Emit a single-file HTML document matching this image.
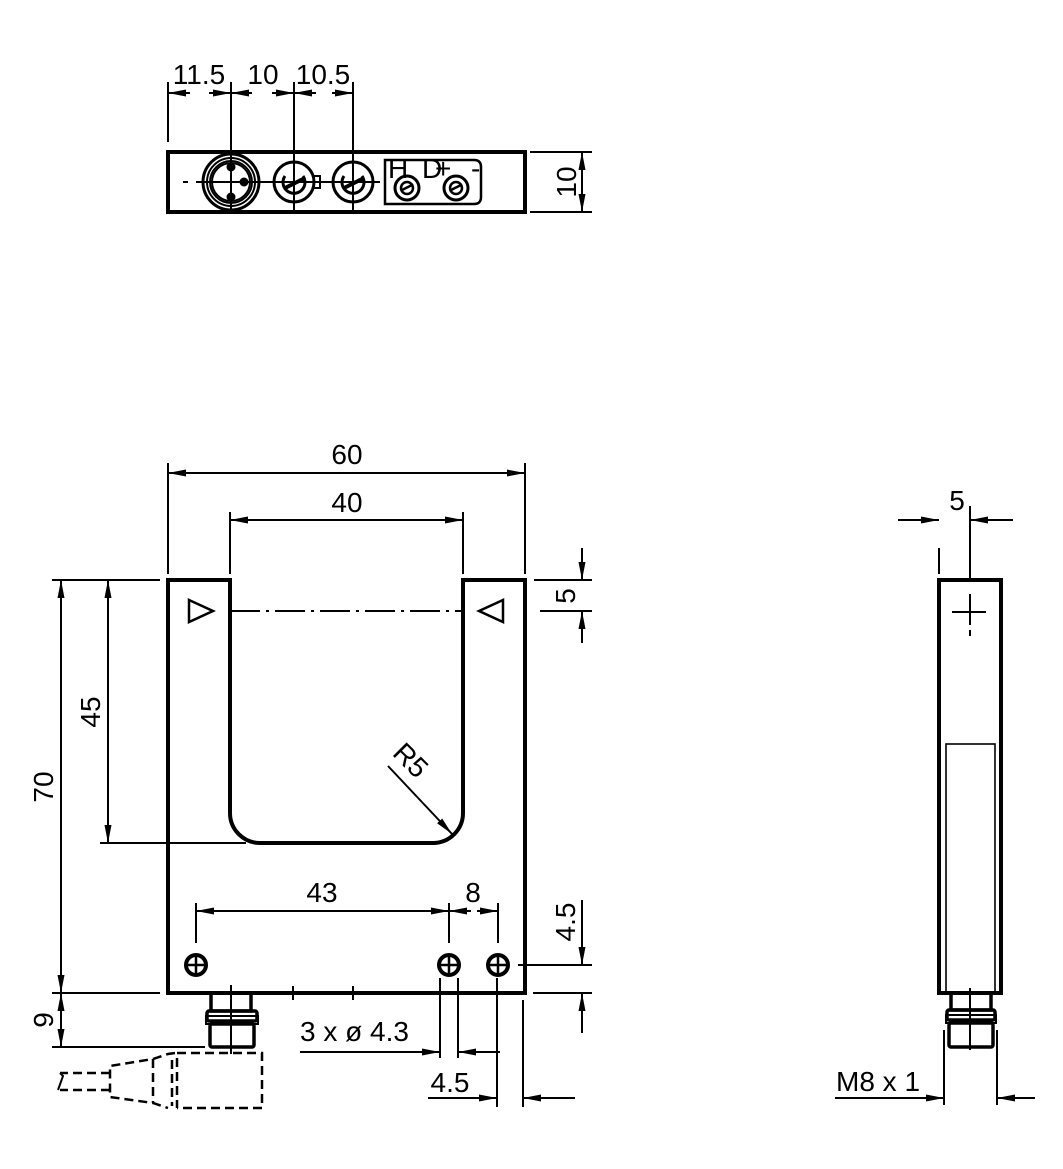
<!DOCTYPE html>
<html><head><meta charset="utf-8"><style>
html,body{margin:0;padding:0;background:#fff}
svg{display:block}
text{font-family:"Liberation Sans",sans-serif;font-size:28px;fill:#000}
</style></head><body>
<svg width="1063" height="1169" viewBox="0 0 1063 1169" xmlns="http://www.w3.org/2000/svg">
<defs>
<marker id="a" viewBox="0 0 18 8" refX="18" refY="4" markerWidth="18" markerHeight="8" orient="auto-start-reverse" markerUnits="userSpaceOnUse"><path d="M0,0.5 L18,4 L0,7.5z" fill="#000"/></marker>
</defs>
<g stroke="#000" fill="none" stroke-width="2">
<!-- TOP VIEW -->
<rect x="168" y="152" width="357" height="60" stroke-width="4"/>
<line x1="168" y1="82" x2="168" y2="142"/>
<line x1="231" y1="82" x2="231" y2="214"/>
<line x1="294" y1="82" x2="294" y2="214"/>
<line x1="353" y1="82" x2="353" y2="214"/>
<line x1="168" y1="93" x2="190" y2="93" marker-start="url(#a)"/>
<line x1="209" y1="93" x2="231" y2="93" marker-end="url(#a)"/>
<line x1="231" y1="93" x2="252" y2="93" marker-start="url(#a)"/>
<line x1="272" y1="93" x2="294" y2="93" marker-end="url(#a)"/>
<line x1="294" y1="93" x2="316" y2="93" marker-start="url(#a)"/>
<line x1="332" y1="93" x2="353" y2="93" marker-end="url(#a)"/>
<line x1="183" y1="182" x2="188" y2="182"/>
<line x1="196" y1="182" x2="380" y2="182"/>
<circle cx="231" cy="182" r="28" stroke-width="3"/>
<circle cx="231" cy="182" r="24"/>
<circle cx="231" cy="182" r="21"/>
<circle cx="231" cy="182" r="19"/>
<circle cx="231" cy="167" r="3.5" fill="#000"/>
<circle cx="231" cy="197" r="3.5" fill="#000"/>
<circle cx="244" cy="182" r="3.5" fill="#000"/>
<circle cx="294" cy="182" r="20" stroke-width="3"/>
<path d="M285,176 A11,11 0 1 0 303,176" stroke-width="3"/>
<line x1="285" y1="188" x2="305" y2="178" stroke-width="4"/>
<rect x="314" y="176" width="6" height="12"/>
<circle cx="353" cy="182" r="20" stroke-width="3"/>
<path d="M344,176 A11,11 0 1 0 362,176" stroke-width="3"/>
<line x1="344" y1="188" x2="364" y2="178" stroke-width="4"/>
<path d="M385,160 H474 Q481,160 481,167 V197 Q481,204 474,204 H385 Z" stroke-width="2.5"/>
<circle cx="407" cy="188" r="12" stroke-width="3"/>
<circle cx="407" cy="188" r="6" stroke-width="2.5"/>
<line x1="402" y1="190" x2="412" y2="185" stroke-width="2.5"/>
<circle cx="456" cy="188" r="12" stroke-width="3"/>
<circle cx="456" cy="188" r="6" stroke-width="2.5"/>
<line x1="451" y1="190" x2="461" y2="185" stroke-width="2.5"/>
<line x1="530" y1="152" x2="592" y2="152"/>
<line x1="530" y1="212" x2="592" y2="212"/>
<line x1="582" y1="182" x2="582" y2="152" marker-end="url(#a)"/>
<line x1="582" y1="182" x2="582" y2="212" marker-end="url(#a)"/>

<!-- MAIN VIEW -->
<path d="M168,580 H230 V813 A30,30 0 0 0 260,843 H433 A30,30 0 0 0 463,813 V580 H525 V993 H168 Z" stroke-width="4"/>
<line x1="168" y1="463" x2="168" y2="574"/>
<line x1="525" y1="463" x2="525" y2="574"/>
<line x1="168" y1="473" x2="525" y2="473" marker-start="url(#a)" marker-end="url(#a)"/>
<line x1="230" y1="512" x2="230" y2="574"/>
<line x1="463" y1="512" x2="463" y2="574"/>
<line x1="230" y1="520" x2="463" y2="520" marker-start="url(#a)" marker-end="url(#a)"/>
<path d="M189,600 L213,611 L189,622 Z" stroke-width="2.5"/>
<path d="M503,600 L479,611 L503,622 Z" stroke-width="2.5"/>
<line x1="230" y1="611" x2="463" y2="611" stroke-dasharray="30,6,3,6"/>
<line x1="534" y1="580" x2="592" y2="580"/>
<line x1="540" y1="611" x2="592" y2="611"/>
<line x1="582" y1="548" x2="582" y2="580" marker-end="url(#a)"/>
<line x1="582" y1="643" x2="582" y2="611" marker-end="url(#a)"/>
<line x1="52" y1="580" x2="160" y2="580"/>
<line x1="61" y1="580" x2="61" y2="993" marker-start="url(#a)" marker-end="url(#a)"/>
<line x1="108" y1="580" x2="108" y2="843" marker-start="url(#a)" marker-end="url(#a)"/>
<line x1="100" y1="843" x2="246" y2="843"/>
<line x1="388" y1="766" x2="452" y2="834" marker-end="url(#a)"/>
<g stroke-width="4"><circle cx="196" cy="965" r="10"/><circle cx="449" cy="965" r="10"/><circle cx="498" cy="965" r="10"/></g>
<path d="M186,965 H206 M196,955 V975 M439,965 H459 M449,955 V975 M488,965 H508 M498,955 V975" stroke-width="2.5"/>
<line x1="196" y1="903" x2="196" y2="943"/>
<line x1="449" y1="903" x2="449" y2="943"/>
<line x1="498" y1="903" x2="498" y2="943"/>
<line x1="196" y1="911" x2="449" y2="911" marker-start="url(#a)" marker-end="url(#a)"/>
<line x1="449" y1="911" x2="471" y2="911" marker-start="url(#a)"/>
<line x1="477" y1="911" x2="498" y2="911" marker-end="url(#a)"/>
<line x1="518" y1="965" x2="592" y2="965"/>
<line x1="533" y1="993" x2="592" y2="993"/>
<line x1="582" y1="900" x2="582" y2="965" marker-end="url(#a)"/>
<line x1="582" y1="1033" x2="582" y2="993" marker-end="url(#a)"/>
<line x1="52" y1="993" x2="160" y2="993"/>
<line x1="52" y1="1047" x2="205" y2="1047"/>
<line x1="61" y1="993" x2="61" y2="1047" marker-start="url(#a)" marker-end="url(#a)"/>
<line x1="293" y1="986" x2="293" y2="1000"/>
<line x1="353" y1="986" x2="353" y2="1000"/>
<!-- connector -->
<rect x="211" y="993" width="40" height="18" stroke-width="3.5"/>
<rect x="207" y="1011" width="50" height="10" rx="2" stroke-width="3.5"/>
<rect x="206" y="1016" width="52" height="8" stroke-width="2"/>
<rect x="210" y="1024" width="44" height="23" rx="2" stroke-width="3.5"/>
<line x1="231" y1="985" x2="231" y2="1054"/>
<!-- dashed cable -->
<g stroke-width="2.5" stroke-dasharray="9,5">
<path d="M177,1053 H262 V1108 H177"/>
<line x1="177" y1="1058" x2="177" y2="1108"/>
<line x1="172" y1="1060" x2="172" y2="1106"/>
<path d="M175,1053 L168,1054 L153,1059 L110,1066 V1097 L153,1103 L168,1108"/>
<line x1="153" y1="1059" x2="153" y2="1103"/>
<path d="M110,1073 H60 M110,1090 H60"/>
</g>
<path d="M60,1073 L63,1076 L58,1090" stroke-width="2"/>
<line x1="440" y1="978" x2="440" y2="1058"/>
<line x1="458" y1="978" x2="458" y2="1058"/>
<line x1="497" y1="978" x2="497" y2="1107"/>
<line x1="523" y1="1000" x2="523" y2="1107"/>
<line x1="300" y1="1052" x2="440" y2="1052" marker-end="url(#a)"/>
<line x1="500" y1="1052" x2="458" y2="1052" marker-end="url(#a)"/>
<line x1="428" y1="1098" x2="497" y2="1098" marker-end="url(#a)"/>
<line x1="575" y1="1098" x2="523" y2="1098" marker-end="url(#a)"/>

<!-- SIDE VIEW -->
<rect x="939" y="580" width="62" height="413" stroke-width="4"/>
<rect x="946" y="744" width="49" height="249" stroke-width="1.6"/>
<line x1="939" y1="548" x2="939" y2="574"/>
<line x1="970" y1="506" x2="970" y2="580"/>
<line x1="898" y1="520" x2="939" y2="520" marker-end="url(#a)"/>
<line x1="1013" y1="520" x2="970" y2="520" marker-end="url(#a)"/>
<line x1="952" y1="612" x2="986" y2="612"/>
<line x1="970" y1="594" x2="970" y2="625"/>
<line x1="970" y1="630" x2="970" y2="636"/>
<rect x="951" y="993" width="40" height="17" stroke-width="3.5"/>
<rect x="947" y="1010" width="48" height="10" rx="2" stroke-width="3.5"/>
<rect x="946" y="1015" width="50" height="8" stroke-width="2"/>
<rect x="949" y="1023" width="44" height="24" rx="2" stroke-width="3.5"/>
<line x1="970" y1="988" x2="970" y2="1050"/>
<line x1="944" y1="1030" x2="944" y2="1105"/>
<line x1="997" y1="1030" x2="997" y2="1105"/>
<line x1="835" y1="1098" x2="944" y2="1098" marker-end="url(#a)"/>
<line x1="1035" y1="1098" x2="997" y2="1098" marker-end="url(#a)"/>
</g>

<text x="199" y="84" text-anchor="middle" font-size="29">11.5</text>
<text x="263" y="84" text-anchor="middle" font-size="29">10</text>
<text x="323" y="84" text-anchor="middle" font-size="29">10.5</text>
<text x="388" y="178" font-size="14">H</text>
<text x="422" y="178" font-size="14">D</text>
<text x="435" y="178" font-size="14">+</text>
<text x="471" y="178" font-size="14">-</text>
<text transform="translate(576,182) rotate(-90)" text-anchor="middle">10</text>
<text x="347" y="464" text-anchor="middle">60</text>
<text x="347" y="512" text-anchor="middle">40</text>
<text transform="translate(575,596) rotate(-90)" text-anchor="middle">5</text>
<text transform="translate(53,787) rotate(-90)" text-anchor="middle">70</text>
<text transform="translate(100,712) rotate(-90)" text-anchor="middle">45</text>
<text transform="translate(404,767) rotate(45)" text-anchor="middle">R5</text>
<text x="322" y="902" text-anchor="middle">43</text>
<text x="473" y="902" text-anchor="middle">8</text>
<text transform="translate(575,922) rotate(-90)" text-anchor="middle">4.5</text>
<text transform="translate(53,1020) rotate(-90)" text-anchor="middle">9</text>
<text x="300" y="1041">3 x ø 4.3</text>
<text x="450" y="1092" text-anchor="middle">4.5</text>
<text x="957" y="510" text-anchor="middle">5</text>
<text x="836" y="1091">M8 x 1</text>
</svg>
</body></html>
